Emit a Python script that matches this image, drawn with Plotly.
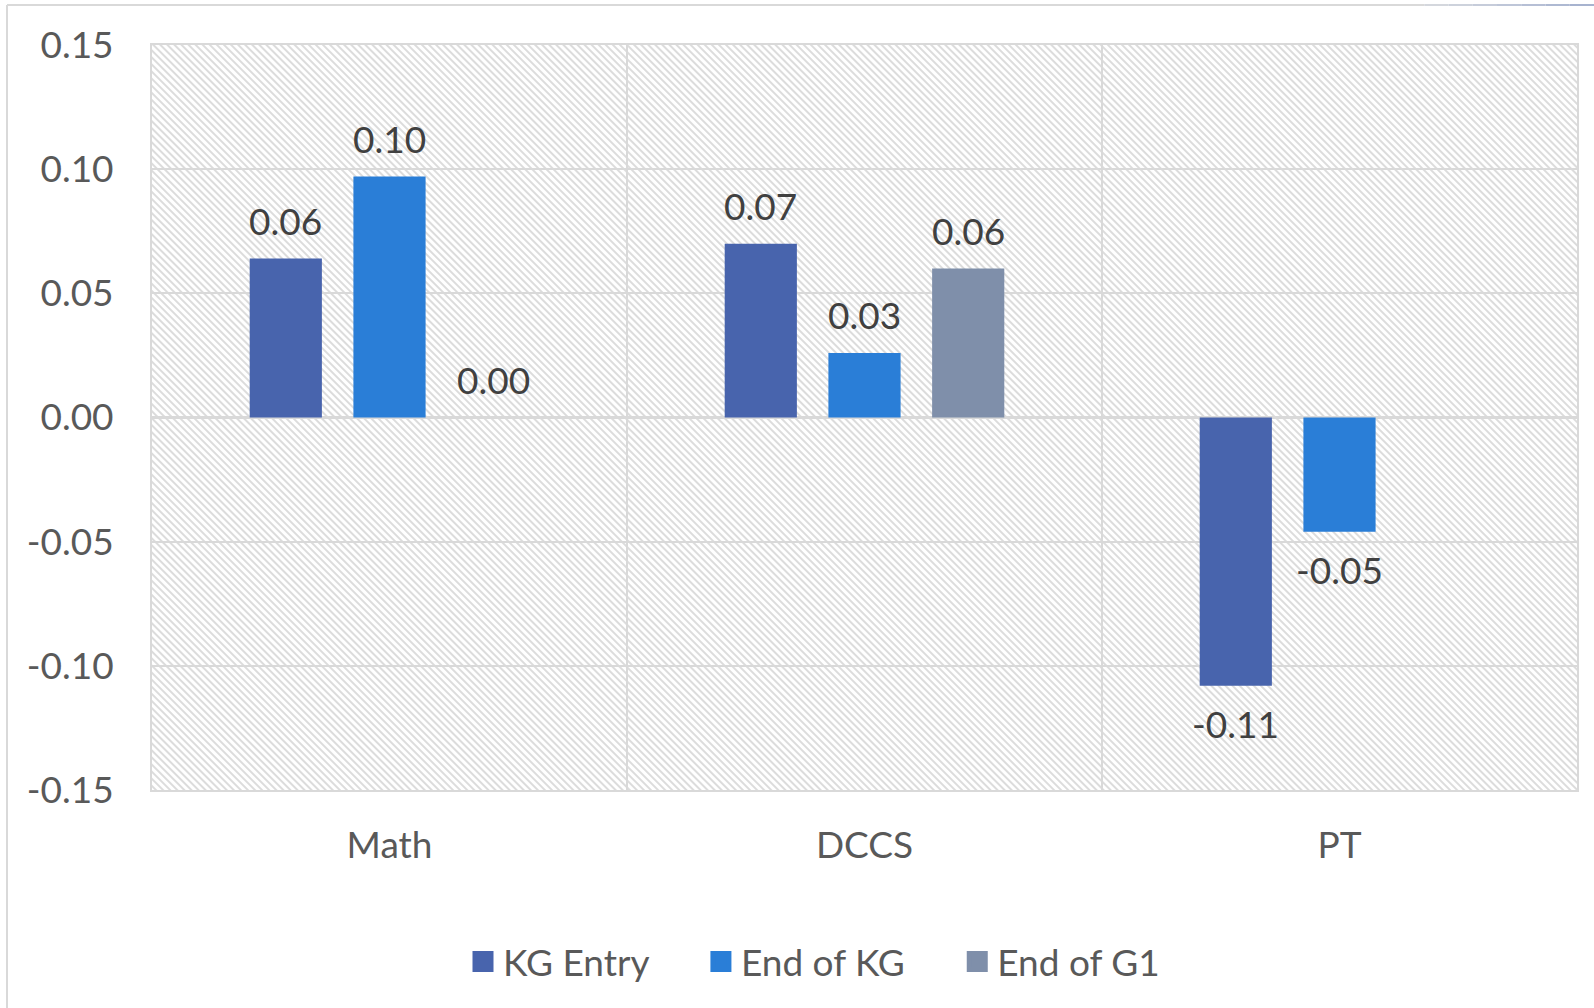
import base64
import plotly.graph_objects as go

# values
categories = ["Math", "DCCS", "PT"]
kg_entry = [0.064, 0.070, -0.108]
end_of_kg = [0.097, 0.026, -0.046]
end_of_g1 = [0.0, 0.060, None]

series_names = ["KG Entry", "End of KG", "End of G1"]
series_vals = [kg_entry, end_of_kg, end_of_g1]
colors = ["#4864ad", "#2a7ed7", "#7f8faa"]

y_ticks = [-0.15, -0.10, -0.05, 0.0, 0.05, 0.10, 0.15]
y_tick_text = ["-0.15", "-0.10", "-0.05", "0.00", "0.05", "0.10", "0.15"]

W, H = 1594, 1008
L, R, T, B = 152, 17, 45, 218
PW, PH = W - L - R, H - T - B

FONT = "Lato"
FS = 37
TXT = "#595959"
GRID = "#d9d9d9"

BARGAP = 0.345
GROUPGAP = 0.304


def px_x(p):
    return (p - L) / PW


def px_y(p):
    return (H - B - p) / PH


fig = go.Figure()

for name, vals, c in zip(series_names, series_vals, colors):
    fig.add_trace(go.Bar(x=categories, y=vals, name=name, marker_color=c,
                         marker_line_width=0, showlegend=False))

# legend entries with bigger squares than bar legends allow
pad = "\u00a0" * 5
for name, c in zip(series_names, colors):
    fig.add_trace(go.Scatter(x=[None], y=[None], mode="markers", name=name + pad,
                             marker=dict(symbol="square", size=16, color=c,
                                         line=dict(color=c, width=5))))

# data labels
slot = (1 - BARGAP) / len(series_names)
annotations = []
for j, vals in enumerate(series_vals):
    off = (j - (len(series_names) - 1) / 2) * slot
    for i, v in enumerate(vals):
        if v is None:
            continue
        neg = v < 0
        annotations.append(dict(
            x=i + off, y=v, xref="x", yref="y", text=f"{v:.2f}",
            showarrow=False, yanchor="top" if neg else "bottom",
            yshift=-13 if neg else 14,
            font=dict(family=FONT, size=FS, color="#404040")))

# hatched plot background
svg = (f'<svg xmlns="http://www.w3.org/2000/svg" width="{PW}" height="{PH}">'
       '<defs><pattern id="h" width="5" height="5" patternUnits="userSpaceOnUse" '
       'patternTransform="rotate(-45)"><rect x="0" y="0" width="2" height="5" '
       'fill="#dcdcdc"/></pattern></defs>'
       f'<rect width="{PW}" height="{PH}" fill="#ffffff"/>'
       f'<rect width="{PW}" height="{PH}" fill="url(#h)"/></svg>')
src = "data:image/svg+xml;base64," + base64.b64encode(svg.encode()).decode()

# outer frame bits of the cropped chart
shapes = [
    dict(type="line", xref="paper", yref="paper", x0=px_x(7), x1=px_x(7),
         y0=px_y(5), y1=px_y(H), line=dict(color=GRID, width=2)),
    dict(type="line", xref="paper", yref="paper", x0=px_x(7), x1=px_x(1400),
         y0=px_y(5), y1=px_y(5), line=dict(color=GRID, width=2)),
]
grad = ["#d9d9d9", "#d4d7dd", "#cdd2dc", "#c6ccda", "#bec6d8", "#b6bfd5", "#aeb9d2", "#a7b3cf"]
step = (W - 1400) / len(grad)
for k, gc in enumerate(grad):
    shapes.append(dict(type="line", xref="paper", yref="paper",
                       x0=px_x(1400 + k * step), x1=px_x(1400 + (k + 1) * step),
                       y0=px_y(5), y1=px_y(5), line=dict(color=gc, width=2)))

fig.update_layout(
    width=W, height=H,
    margin=dict(l=L, r=R, t=T, b=B),
    paper_bgcolor="white", plot_bgcolor="white",
    barmode="group", bargap=BARGAP, bargroupgap=GROUPGAP,
    font=dict(family=FONT, size=FS, color=TXT),
    annotations=annotations,
    shapes=shapes,
    images=[dict(source=src, xref="paper", yref="paper", x=0, y=1,
                 sizex=1, sizey=1, sizing="stretch", layer="below",
                 xanchor="left", yanchor="top")],
    legend=dict(orientation="h", x=px_x(838), xanchor="center",
                y=px_y(962), yanchor="middle",
                font=dict(family=FONT, size=FS, color=TXT),
                itemwidth=30, bgcolor="rgba(0,0,0,0)"),
)

fig.update_xaxes(type="category", showgrid=True, gridcolor=GRID, gridwidth=1.5,
                 tickson="boundaries", ticks="", ticklabelstandoff=22,
                 showline=True, mirror=True, linecolor=GRID, linewidth=2,
                 tickfont=dict(family=FONT, size=FS, color=TXT))
fig.update_yaxes(range=[-0.15, 0.15], tickvals=y_ticks, ticktext=y_tick_text,
                 showgrid=True, gridcolor=GRID, gridwidth=2,
                 zeroline=True, zerolinecolor=GRID, zerolinewidth=2.5,
                 showline=True, mirror=True, linecolor=GRID, linewidth=2,
                 ticks="", ticklabelstandoff=29,
                 tickfont=dict(family=FONT, size=FS, color=TXT))

fig.write_html("out.html", config={"displayModeBar": False},
               post_script="document.body.style.margin='0';")
